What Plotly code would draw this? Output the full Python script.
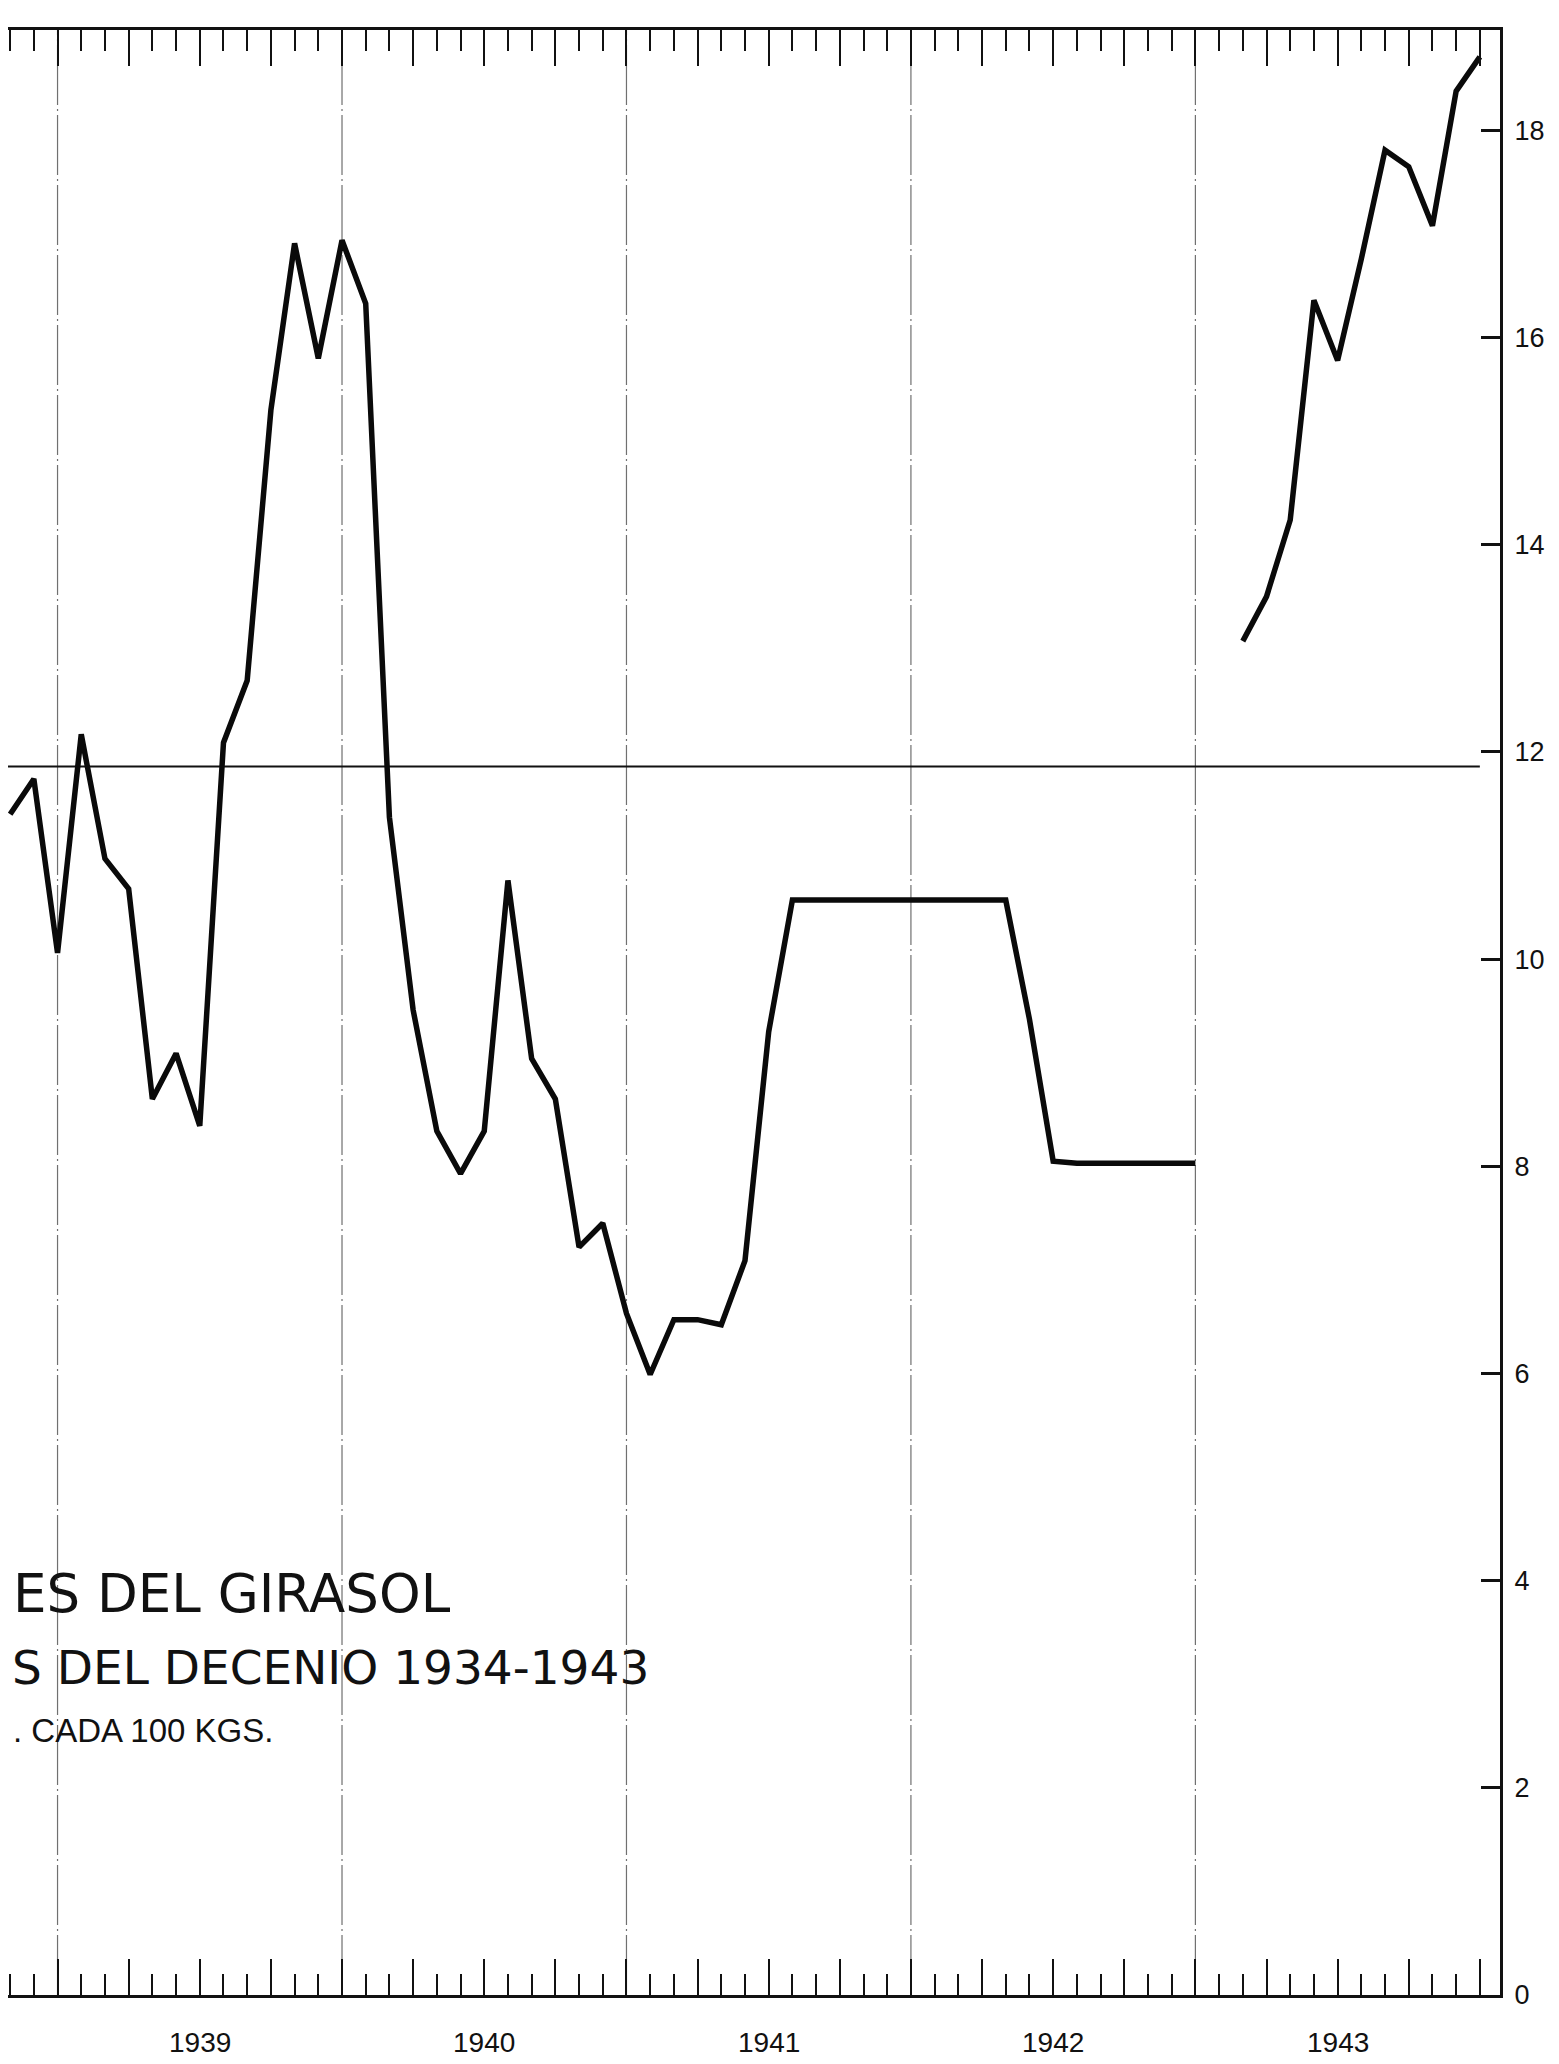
import plotly.graph_objects as go

# ---- data ----
# month labels "YYYY-MM"; None value = no data (gap in the line)
months = [
    "1938-10", "1938-11", "1938-12",
    "1939-01", "1939-02", "1939-03", "1939-04", "1939-05", "1939-06",
    "1939-07", "1939-08", "1939-09", "1939-10", "1939-11", "1939-12",
    "1940-01", "1940-02", "1940-03", "1940-04", "1940-05", "1940-06",
    "1940-07", "1940-08", "1940-09", "1940-10", "1940-11", "1940-12",
    "1941-01", "1941-02", "1941-03", "1941-04", "1941-05", "1941-06",
    "1941-07", "1941-08", "1941-09", "1941-10", "1941-11", "1941-12",
    "1942-01", "1942-02", "1942-03", "1942-04", "1942-05", "1942-06",
    "1942-07", "1942-08", "1942-09", "1942-10", "1942-11", "1942-12",
    "1943-01", "1943-02", "1943-03", "1943-04", "1943-05", "1943-06",
    "1943-07", "1943-08", "1943-09", "1943-10", "1943-11", "1943-12",
]
prices = [
    11.40, 11.74, 10.06,
    12.17, 10.97, 10.68, 8.65, 9.09, 8.39,
    12.09, 12.69, 15.30, 16.91, 15.80, 16.94,
    16.33, 11.37, 9.51, 8.34, 7.93, 8.34,
    10.76, 9.04, 8.65, 7.22, 7.45, 6.58,
    5.99, 6.52, 6.52, 6.47, 7.09, 9.30,
    10.57, 10.57, 10.57, 10.57, 10.57, 10.57,
    10.57, 10.57, 10.57, 10.57, 9.42, 8.05,
    8.03, 8.03, 8.03, 8.03, 8.03, 8.03,
    None, 13.07, 13.50, 14.24, 16.36, 15.78,
    16.76, 17.81, 17.65, 17.08, 18.38, 18.71,
]
mean_price = 11.86          # horizontal reference line (decade average)
year_labels = ["1939", "1940", "1941", "1942", "1943"]
y_ticks = [0, 2, 4, 6, 8, 10, 12, 14, 16, 18]

title_lines = ["ES DEL GIRASOL", "S DEL DECENIO 1934-1943", ". CADA 100 KGS."]

# ---- helpers ----
def month_index(label):
    y, m = label.split("-")
    return (int(y) - 1939) * 12 + int(m)   # Dec 1938 -> 0, Dec 1939 -> 12

x_vals = [month_index(m) for m in months]
x_min, x_max = -2.09, 60.85
y_min, y_max = 0, 18.97

fig = go.Figure()

# average line
fig.add_trace(go.Scatter(
    x=[x_min, month_index("1943-12")], y=[mean_price, mean_price],
    mode="lines", line=dict(color="#111111", width=2), hoverinfo="skip",
    showlegend=False))

# price line
fig.add_trace(go.Scatter(
    x=x_vals, y=prices, mode="lines", connectgaps=False,
    line=dict(color="#0a0a0a", width=5.5, shape="linear"),
    showlegend=False))

# year-end vertical dash-dot rules
for yr in range(1939, 1944):
    xv = month_index(f"{yr - 1}-12")
    fig.add_shape(type="line", xref="x", yref="paper", x0=xv, x1=xv, y0=0, y1=1,
                  line=dict(color="#707070", width=1.2, dash="60px,4px,2px,4px"),
                  layer="below")

# year labels centred on each year
for lab in year_labels:
    xv = month_index(f"{lab}-06")
    fig.add_annotation(x=xv, y=0, xref="x", yref="paper", yshift=-47,
                       text=lab, showarrow=False, yanchor="middle",
                       font=dict(family="Liberation Sans", size=28, color="#111111"))

# title fragments (left part of the original sheet is cut off)
plot_w, plot_h, plot_bottom = 1492, 1965, 1987
title_specs = [  # (left start px, centre y px, font size, family)
    (3, 1585, 53, "DejaVu Sans"),
    (2, 1659, 47, "DejaVu Sans"),
    (3, 1722, 33, "Liberation Sans"),
]
for txt, (xl, yc, fs, fam) in zip(title_lines, title_specs):
    fig.add_annotation(x=xl / plot_w, y=(plot_bottom - yc) / plot_h,
                       xref="paper", yref="paper", xanchor="left", yanchor="middle",
                       text=txt, showarrow=False,
                       font=dict(family=fam, size=fs, color="#111111"))

fig.update_layout(
    width=1559, height=2064,
    margin=dict(l=0, r=67, t=22, b=77),
    paper_bgcolor="white", plot_bgcolor="white",
    showlegend=False,
    xaxis=dict(
        range=[x_min, x_max], showgrid=False, zeroline=False,
        showline=True, linecolor="#111111", linewidth=3, mirror="allticks",
        ticks="inside", tickmode="linear", tick0=0, dtick=3,
        ticklen=36, tickwidth=1.6, tickcolor="#111111", showticklabels=False,
        minor=dict(ticks="inside", tickmode="linear", tick0=0, dtick=1,
                   ticklen=21, tickwidth=1.6, tickcolor="#111111", showgrid=False),
    ),
    yaxis=dict(
        range=[y_min, y_max], side="right", showgrid=False, zeroline=False,
        showline=True, linecolor="#111111", linewidth=3, mirror=False,
        tickmode="array", tickvals=y_ticks, ticks="inside", ticklen=19,
        tickwidth=2.5, tickcolor="#111111", ticklabelstandoff=6,
        tickfont=dict(family="Liberation Sans", size=27, color="#111111"),
    ),
)

fig.write_html("out.html")
